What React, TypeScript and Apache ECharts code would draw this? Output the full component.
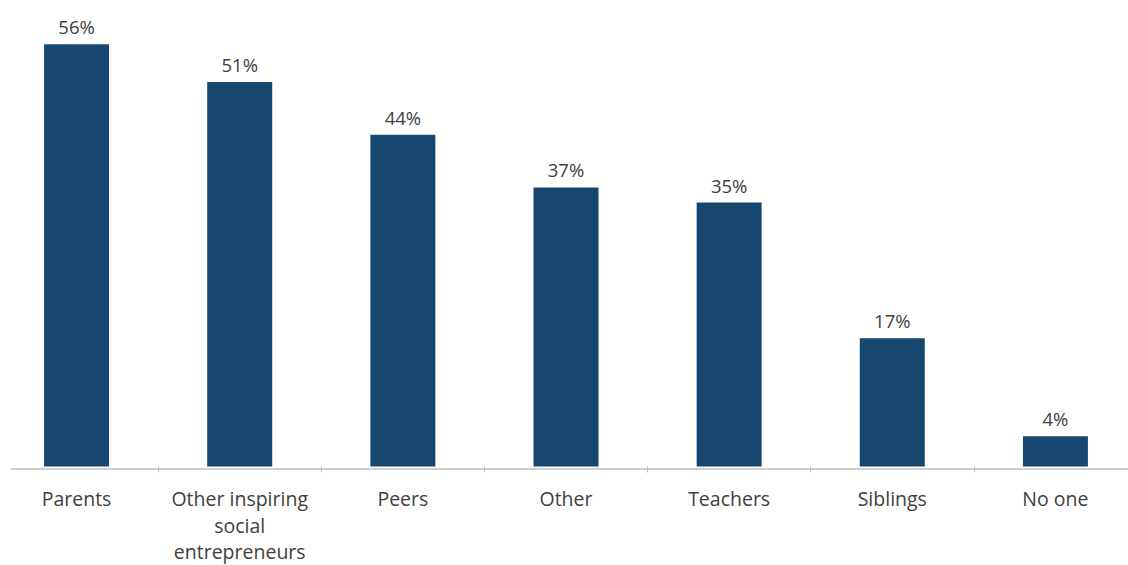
import React, { useEffect, useRef } from "react";
import * as echarts from "echarts";

const categories = [
  "Parents",
  "Other inspiring\nsocial\nentrepreneurs",
  "Peers",
  "Other",
  "Teachers",
  "Siblings",
  "No one",
];
const values = [56, 51, 44, 37, 35, 17, 4];

export default function App() {
  const ref = useRef<HTMLDivElement>(null);
  useEffect(() => {
    if (!ref.current) return;
    const chart = echarts.init(ref.current, null, { renderer: "svg" });
    chart.setOption({
      animation: false,
      backgroundColor: "#ffffff",
      grid: { left: 0, right: 0, top: 14, bottom: 96, containLabel: false },
      xAxis: {
        type: "category",
        data: categories,
        axisLine: { show: false },
        axisTick: { show: true, length: 6, lineStyle: { color: "#bfbfbf" } },
        axisLabel: {
          color: "#404040",
          fontFamily: "Open Sans",
          fontSize: 19.5,
          lineHeight: 26.5,
          margin: 19,
          interval: 0,
        },
      },
      yAxis: {
        type: "value",
        min: 0,
        max: 60,
        show: false,
        splitLine: { show: false },
      },
      graphic: [
        {
          type: "line",
          shape: { x1: 16, y1: 469, x2: 1142, y2: 469 },
          style: { stroke: "#bfbfbf", lineWidth: 1.5 },
        },
      ],
      series: [
        {
          type: "bar",
          data: values,
          barWidth: 65,
          itemStyle: { color: "#17476f" },
          label: {
            show: true,
            position: "top",
            distance: 8,
            formatter: "{c}%",
            color: "#404040",
            fontFamily: "Open Sans",
            fontSize: 18.5,
          },
        },
      ],
    });
    return () => chart.dispose();
  }, []);
  return (
    <div
      style={{
        position: "fixed",
        left: 0,
        top: 0,
        width: 1128,
        height: 565,
        overflow: "hidden",
        background: "#ffffff",
      }}
    >
      <div
        ref={ref}
        style={{ position: "absolute", left: -5, top: 0, width: 1142, height: 565 }}
      />
    </div>
  );
}
